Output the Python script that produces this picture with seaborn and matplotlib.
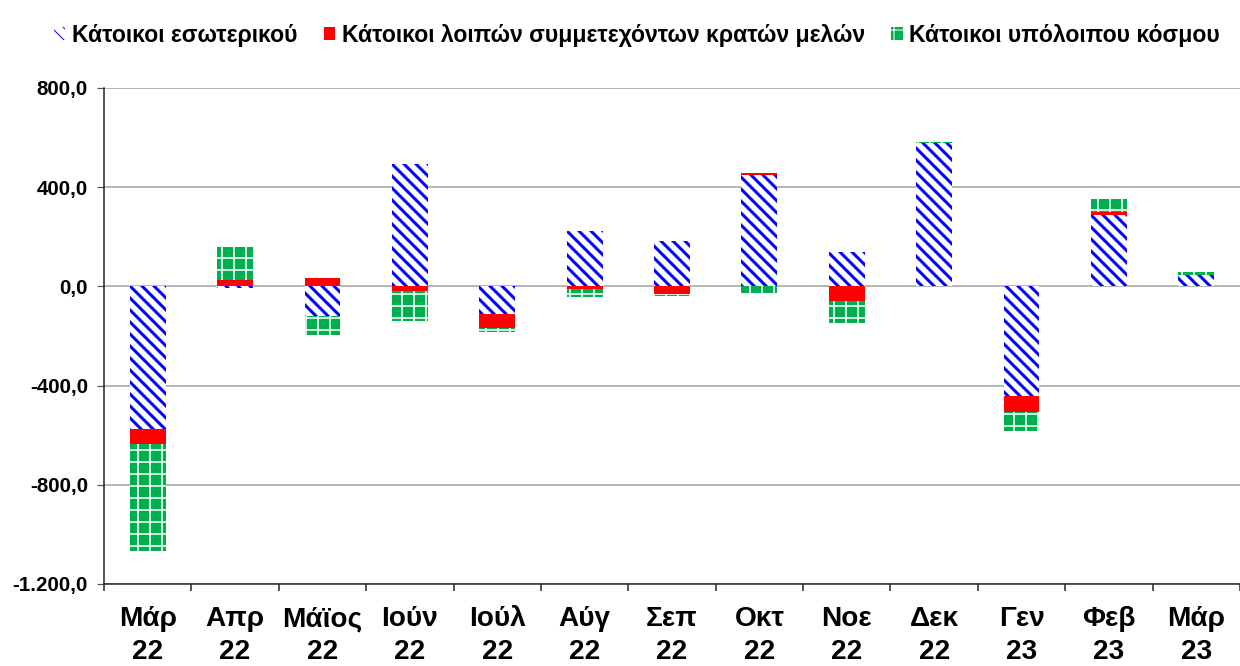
import matplotlib
matplotlib.use("Agg")
import matplotlib.pyplot as plt
import seaborn as sns
import numpy as np
from matplotlib.patches import Patch
from matplotlib.ticker import FixedLocator, FuncFormatter

# ---------------- data ----------------
months = ["Μάρ\n22", "Απρ\n22", "Μάϊος\n22", "Ιούν\n22", "Ιούλ\n22", "Αύγ\n22",
          "Σεπ\n22", "Οκτ\n22", "Νοε\n22", "Δεκ\n22", "Γεν\n23", "Φεβ\n23", "Μάρ\n23"]
domestic = [-575, -8, -119, 494, -113, 224, 182, 450, 138, 577, -443, 287, 45]
other_eu = [-62, 27, 32, -20, -56, -12, -32, 9, -60, 0, -62, 13, 0]
rest_world = [-430, 131, -76, -119, -13, -31, -7, -28, -86, 5, -79, 52, 12]
series_names = ["Κάτοικοι εσωτερικού",
                "Κάτοικοι λοιπών συμμετεχόντων κρατών μελών",
                "Κάτοικοι υπόλοιπου κόσμου"]
y_ticks = [-1200, -800, -400, 0, 400, 800]

# ---------------- style ----------------
sns.set_theme(style="white")
plt.rcParams['font.family'] = ['Liberation Sans', 'DejaVu Sans']
plt.rcParams['text.color'] = 'black'

DPI = 72
W, H = 1240, 666
fig = plt.figure(figsize=(W / DPI, H / DPI), dpi=DPI)
ax = fig.add_axes([104 / W, 1 - 584 / H, 1 - 104 / W, (584 - 88) / H])

styles = [
    dict(face='white', edge='#0000FF', hatch='\\\\', hlw=3.0),
    dict(face='#FF0000', edge='#FF0000', hatch=None, hlw=1.0),
    dict(face='#00B050', edge='#FFFFFF', hatch='+', hlw=1.6),
]

n = len(months)
pos_base = np.zeros(n)
neg_base = np.zeros(n)
for vals, st in zip([domestic, other_eu, rest_world], styles):
    v = np.array(vals, dtype=float)
    bottom = np.where(v >= 0, pos_base, neg_base)
    with plt.rc_context({'hatch.linewidth': st['hlw']}):
        sns.barplot(x=months, y=v, bottom=bottom, width=0.41, ax=ax,
                    color=st['face'], errorbar=None, linewidth=0,
                    saturation=1, zorder=3)
        cont = ax.containers[-1]
        for p in cont:
            p.set_facecolor(st['face'])
            p.set_edgecolor(st['edge'])
            p.set_linewidth(0)
            if st['hatch']:
                p.set_hatch(st['hatch'])
            if hasattr(p, 'set_hatch_linewidth'):
                p.set_hatch_linewidth(st['hlw'])
    pos_base += np.where(v > 0, v, 0)
    neg_base += np.where(v < 0, v, 0)

# ---------------- axes ----------------
ax.set_xlim(-0.5, n - 0.5)
ax.set_ylim(-1200, 800)
ax.yaxis.set_major_locator(FixedLocator(y_ticks))


def greek_fmt(val, _pos):
    s = f"{val:,.1f}"
    return s.replace(",", "X").replace(".", ",").replace("X", ".")


ax.yaxis.set_major_formatter(FuncFormatter(greek_fmt))
ax.grid(axis='y', color='#a6a6a6', linewidth=1.6, zorder=0)
ax.grid(axis='x', visible=False)
ax.set_axisbelow(True)

for side in ['top', 'right']:
    ax.spines[side].set_visible(False)
for side in ['left', 'bottom']:
    ax.spines[side].set_color('#222222')
    ax.spines[side].set_linewidth(1.5)

ax.set_xlabel("")
ax.set_ylabel("")
ax.set_xticks(range(n))
ax.set_xticklabels(months, fontsize=28, fontweight='bold', linespacing=1.35)
ax.set_xticks(np.arange(-0.5, n, 1.0), minor=True)
ax.tick_params(axis='x', which='major', length=0, pad=22, labelcolor='black')
ax.tick_params(axis='x', which='minor', length=7, width=1.5, direction='out',
               color='#222222', bottom=True)
ax.tick_params(axis='y', which='major', length=7, width=1.2, direction='out',
               color='#555555', left=True, pad=9, labelsize=20.5, labelcolor='black')
for lbl in ax.get_yticklabels():
    lbl.set_fontweight('bold')

# ---------------- legend ----------------
handles = []
for st in styles:
    h = Patch(facecolor=st['face'], edgecolor=st['edge'], hatch=st['hatch'], linewidth=0)
    if hasattr(h, 'set_hatch_linewidth'):
        h.set_hatch_linewidth(st['hlw'])
    handles.append(h)
leg = fig.legend(handles, series_names, loc='upper left', bbox_to_anchor=(33 / W, 1 - 3 / H),
                 ncol=3, frameon=False, handlelength=0.5, handleheight=0.55,
                 handletextpad=0.28, columnspacing=1.15,
                 prop=dict(weight='bold', size=23))
for t in leg.get_texts():
    t.set_color('black')

fig.savefig("out.png", dpi=DPI)
